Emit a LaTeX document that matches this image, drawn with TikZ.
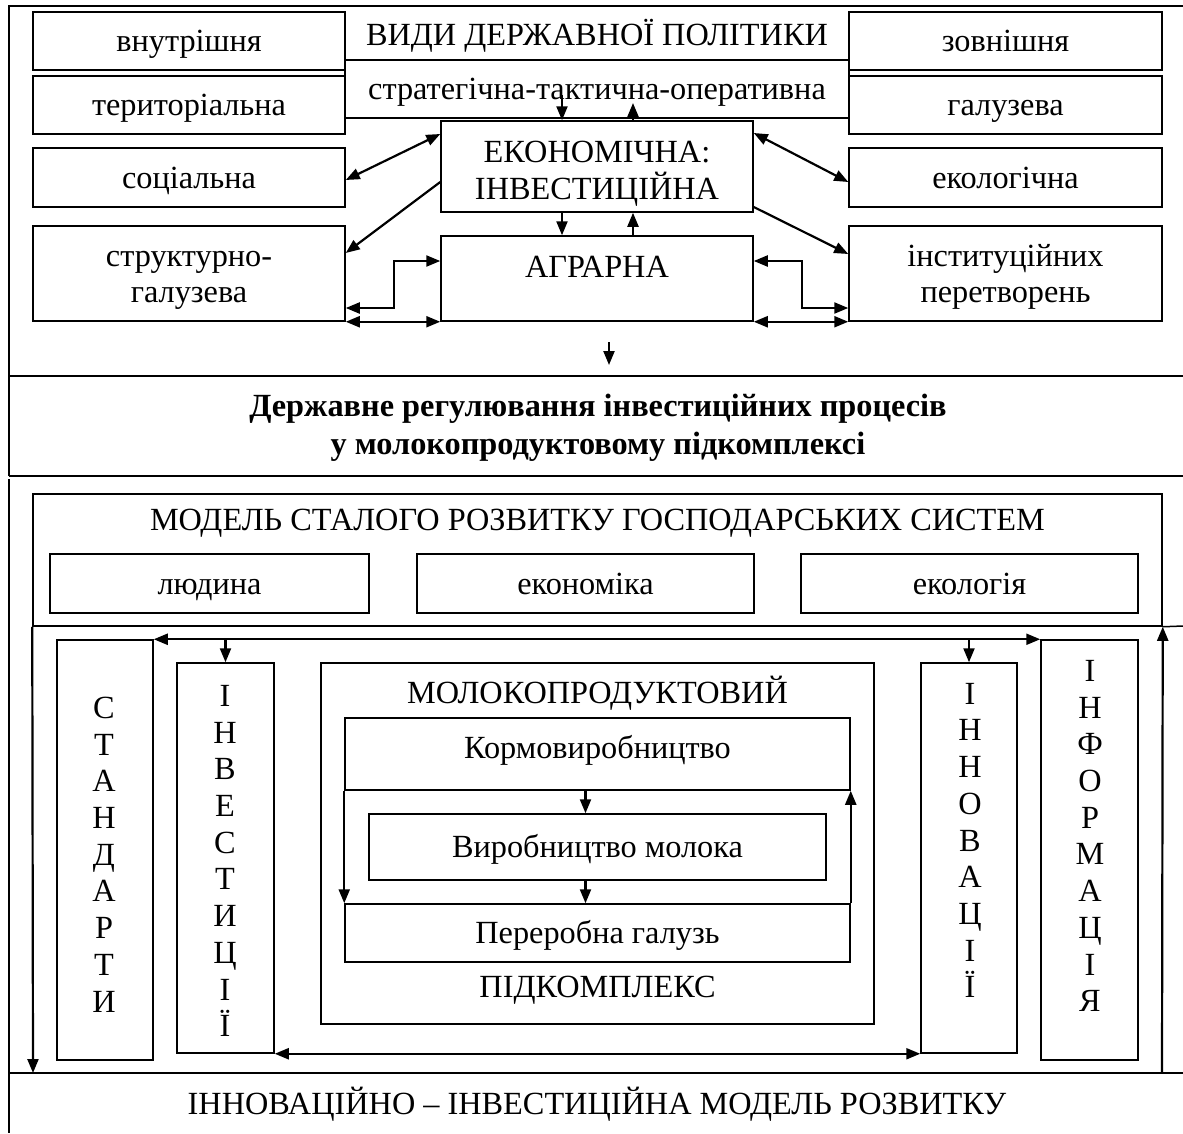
\documentclass[tikz,border=0pt]{standalone}
\usepackage{fontspec}
\setmainfont{Liberation Serif}
\usetikzlibrary{arrows.meta}

\begin{document}
\begin{tikzpicture}[x=1pt,y=-1pt,
    font=\fontsize{32.3}{36.7}\selectfont,
    box/.style={draw,line width=1.5pt,inner sep=0,align=center},
    sbox/.style={box,text height=28pt,text depth=7pt},
    arr/.style={line width=2.2pt,-{Triangle[length=14pt,width=11pt]}},
    darr/.style={line width=2.2pt,{Triangle[length=14pt,width=11pt]}-{Triangle[length=14pt,width=11pt]}},
    frame/.style={line width=1.5pt}]
    \useasboundingbox (0,0) rectangle (1183,1133);

    \draw[frame] (9,476) -- (9,6) -- (1183,6);
    \draw[frame] (9,376) -- (1183,376);
    \draw[frame] (9,476) -- (1183,476);
    \draw[frame] (9,479) -- (9,1133);
    \draw[frame] (9,1073) -- (1183,1073);

    \node[inner sep=0] (vydy_title) at (597,36) {ВИДИ ДЕРЖАВНОЇ ПОЛІТИКИ};
    \node[sbox,minimum width=504pt,minimum height=58pt] (strat_box) at (597,89) {стратегічна-тактична-оперативна};

    \node[sbox,minimum width=312pt,minimum height=58pt] (vnutr_box) at (189,41) {внутрішня};
    \node[sbox,minimum width=312pt,minimum height=58pt] (terr_box) at (189,105) {територіальна};
    \node[sbox,minimum width=312pt,minimum height=59pt] (soc_box) at (189,177.5) {соціальна};
    \node[box,minimum width=312pt,minimum height=95pt] (strukt_box) at (189,273.5) {};
    \node[inner sep=0,align=center] (strukt_text) at (189,280.4) {структурно-\\галузева};

    \node[sbox,minimum width=313pt,minimum height=58pt] (zovn_box) at (1005.5,41) {зовнішня};
    \node[sbox,minimum width=313pt,minimum height=58pt] (galuz_box) at (1005.5,105) {галузева};
    \node[sbox,minimum width=313pt,minimum height=59pt] (ekol_box) at (1005.5,177.5) {екологічна};
    \node[box,minimum width=313pt,minimum height=95pt] (inst_box) at (1005.5,273.5) {};
    \node[inner sep=0,align=center] (inst_text) at (1005.5,277) {інституційних\\перетворень};

    \node[box,minimum width=312pt,minimum height=91pt] (ekon_box) at (597,166.5) {};
    \node[inner sep=0,align=center] (ekon_text) at (597,174) {ЕКОНОМІЧНА:\\ІНВЕСТИЦІЙНА};
    \node[box,minimum width=312pt,minimum height=85pt] (agr_box) at (597,278.5) {};
    \node[inner sep=0] (agr_text) at (597,267) {АГРАРНА};

    \draw[arr] ([xshift=-35pt,yshift=-6pt]strat_box.center) -- ([xshift=-35pt]ekon_box.north);
    \draw[arr] ([xshift=36pt]ekon_box.north) -- ([xshift=36pt,yshift=-14pt]strat_box.center);
    \draw[arr] ([xshift=-35pt]ekon_box.south) -- ([xshift=-35pt]agr_box.north);
    \draw[arr] ([xshift=36pt]agr_box.north) -- ([xshift=36pt]ekon_box.south);

    \draw[darr] ([yshift=32.5pt]ekon_box.west) -- ([yshift=-2.5pt]soc_box.east);
    \draw[arr] ([yshift=-15.5pt]ekon_box.west) -- ([yshift=20.5pt]strukt_box.east);
    \draw[darr] ([yshift=33.5pt]ekon_box.east) -- ([yshift=-4.5pt]ekol_box.west);
    \draw[arr] ([yshift=-40.5pt]ekon_box.east) -- ([yshift=19.5pt]inst_box.west);

    \draw[darr] ([yshift=-34.5pt]strukt_box.east) -- ++(48,0) |- ([yshift=17.5pt]agr_box.west);
    \draw[darr] (strukt_box.south east) -- (agr_box.south west);
    \draw[darr] ([yshift=17.5pt]agr_box.east) -- ++(48,0) |- ([yshift=-34.5pt]inst_box.west);
    \draw[darr] (agr_box.south east) -- (inst_box.south west);

    \coordinate (reg_arrow) at (609,342);
    \coordinate (reg_arrow_end) at (609,365);
    \draw[arr] (reg_arrow) -- (reg_arrow_end);

    \node[inner sep=0,align=center,font=\fontsize{32.3}{38}\selectfont\bfseries] (reg_text) at (598,428)
        {Державне регулювання інвестиційних процесів\\у молокопродуктовому підкомплексі};

    \node[box,minimum width=1129pt,minimum height=132pt] (model_box) at (597.5,560) {};
    \node[inner sep=0] (model_title) at (597.5,523) {МОДЕЛЬ СТАЛОГО РОЗВИТКУ ГОСПОДАРСЬКИХ СИСТЕМ};
    \node[sbox,minimum width=319pt,minimum height=59pt] (ludyna_box) at (209.5,583.5) {людина};
    \node[sbox,minimum width=337pt,minimum height=59pt] (ekonomika_box) at (585.5,583.5) {економіка};
    \node[sbox,minimum width=337pt,minimum height=59pt] (ekologia_box) at (969.5,583.5) {екологія};
    \draw[frame] (model_box.south east) -- (1183,626);

    \node[box,minimum width=96pt,minimum height=420pt] (stand_box) at (105,850) {};
    \node[inner sep=0,align=center] (stand_text) at (104,854.5) {С\\Т\\А\\Н\\Д\\А\\Р\\Т\\И};
    \node[box,minimum width=97pt,minimum height=390pt] (invest_box) at (225.5,858) {};
    \node[inner sep=0,align=center] (invest_text) at (225,861) {І\\Н\\В\\Е\\С\\Т\\И\\Ц\\І\\Ї};
    \node[box,minimum width=96pt,minimum height=390pt] (innov_box) at (969,858) {};
    \node[inner sep=0,align=center] (innov_text) at (970,840.5) {І\\Н\\Н\\О\\В\\А\\Ц\\І\\Ї};
    \node[box,minimum width=97pt,minimum height=420pt] (inform_box) at (1089.5,850) {};
    \node[inner sep=0,align=center] (inform_text) at (1090,836) {І\\Н\\Ф\\О\\Р\\М\\А\\Ц\\І\\Я};

    \node[box,minimum width=553pt,minimum height=361pt] (moloko_box) at (597.5,843.5) {};
    \node[inner sep=0] (moloko_top) at (597.5,693) {МОЛОКОПРОДУКТОВИЙ};
    \node[inner sep=0] (moloko_bot) at (597.5,990) {ПІДКОМПЛЕКС};
    \node[box,text height=22pt,text depth=14pt,minimum width=505pt,minimum height=72pt] (kormo_box) at (597.5,754) {Кормовиробництво};
    \node[sbox,minimum width=457pt,minimum height=66pt] (virob_box) at (597.5,847) {Виробництво молока};
    \node[sbox,minimum width=505pt,minimum height=58pt] (perer_box) at (597.5,933) {Переробна галузь};

    \draw[arr] ([xshift=-12pt]kormo_box.south) -- ([xshift=-12pt]virob_box.north);
    \draw[arr] ([xshift=-12pt]virob_box.south) -- ([xshift=-12pt]perer_box.north);
    \draw[arr] (kormo_box.south west) -- (perer_box.north west);
    \draw[arr] (perer_box.north east) -- (kormo_box.south east);

    \draw[darr] (stand_box.north east) -- (inform_box.north west);
    \draw[arr] (invest_box.north |- stand_box.north) -- (invest_box.north);
    \draw[arr] (innov_box.north |- stand_box.north) -- (innov_box.north);
    \draw[darr] (invest_box.south east) -- (innov_box.south west);

    \coordinate (bottom_left) at (33,1073);
    \coordinate (bottom_right) at (1162,1073);
    \draw[arr] (model_box.south west) -- (bottom_left);
    \draw[arr] (bottom_right) -- (model_box.south east);

    \node[inner sep=0] (innov_model) at (597,1104) {ІННОВАЦІЙНО – ІНВЕСТИЦІЙНА МОДЕЛЬ РОЗВИТКУ};

\end{tikzpicture}
\end{document}
